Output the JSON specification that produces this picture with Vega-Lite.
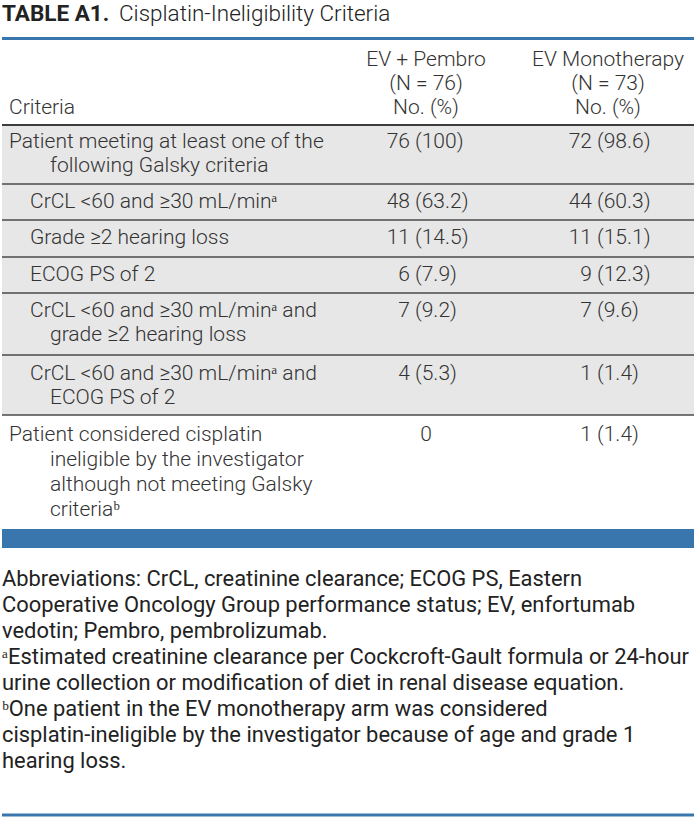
{
  "$schema": "https://vega.github.io/schema/vega-lite/v6.json",
  "width": 694,
  "height": 819,
  "padding": 0,
  "autosize": {"type": "fit", "contains": "padding"},
  "background": "white",
  "config": {"view": {"stroke": null}},
  "datasets": {
    "bands": [
      {"kind": "gray", "top": 126, "bottom": 415},
      {"kind": "blue", "top": 529, "bottom": 548}
    ],
    "rules": [
      {"kind": "blue", "pos": 38.5},
      {"kind": "head", "pos": 125},
      {"kind": "sep", "pos": 184},
      {"kind": "sep", "pos": 220},
      {"kind": "sep", "pos": 257},
      {"kind": "sep", "pos": 293},
      {"kind": "sep", "pos": 355},
      {"kind": "sep", "pos": 415},
      {"kind": "blue", "pos": 815}
    ],
    "cells": [
      {"part": "titleBold", "text": "TABLE A1.", "x": 0, "y": 21},
      {"part": "title", "text": "Cisplatin-Ineligibility Criteria", "x": 117, "y": 21},
      {"part": "headLeft", "text": "Criteria", "x": 7, "y": 114},
      {"part": "headCenter", "text": "EV + Pembro", "x": 424, "y": 66},
      {"part": "headCenter", "text": "(N = 76)", "x": 424, "y": 90},
      {"part": "headCenter", "text": "No. (%)", "x": 424, "y": 114},
      {"part": "headCenter", "text": "EV Monotherapy", "x": 606, "y": 66},
      {"part": "headCenter", "text": "(N = 73)", "x": 606, "y": 90},
      {"part": "headCenter", "text": "No. (%)", "x": 606, "y": 114},
      {"part": "label", "text": "Patient meeting at least one of the", "x": 7, "y": 148},
      {"part": "label", "text": "following Galsky criteria", "x": 48, "y": 172},
      {"part": "label", "text": "CrCL <60 and ≥30 mL/minᵃ", "x": 28, "y": 208},
      {"part": "label", "text": "Grade ≥2 hearing loss", "x": 28, "y": 244},
      {"part": "label", "text": "ECOG PS of 2", "x": 28, "y": 281},
      {"part": "label", "text": "CrCL <60 and ≥30 mL/minᵃ and", "x": 28, "y": 317},
      {"part": "label", "text": "grade ≥2 hearing loss", "x": 48, "y": 341},
      {"part": "label", "text": "CrCL <60 and ≥30 mL/minᵃ and", "x": 28, "y": 380},
      {"part": "label", "text": "ECOG PS of 2", "x": 48, "y": 404},
      {"part": "label", "text": "Patient considered cisplatin", "x": 7, "y": 441},
      {"part": "label", "text": "ineligible by the investigator", "x": 48, "y": 466},
      {"part": "label", "text": "although not meeting Galsky", "x": 48, "y": 491},
      {"part": "label", "text": "criteriaᵇ", "x": 48, "y": 516},
      {"part": "num", "text": "76", "x": 408, "y": 148},
      {"part": "pct", "text": "(100)", "x": 413, "y": 148},
      {"part": "num", "text": "72", "x": 590, "y": 148},
      {"part": "pct", "text": "(98.6)", "x": 595, "y": 148},
      {"part": "num", "text": "48", "x": 408, "y": 208},
      {"part": "pct", "text": "(63.2)", "x": 413, "y": 208},
      {"part": "num", "text": "44", "x": 590, "y": 208},
      {"part": "pct", "text": "(60.3)", "x": 595, "y": 208},
      {"part": "num", "text": "11", "x": 408, "y": 244},
      {"part": "pct", "text": "(14.5)", "x": 413, "y": 244},
      {"part": "num", "text": "11", "x": 590, "y": 244},
      {"part": "pct", "text": "(15.1)", "x": 595, "y": 244},
      {"part": "num", "text": "6", "x": 408, "y": 281},
      {"part": "pct", "text": "(7.9)", "x": 413, "y": 281},
      {"part": "num", "text": "9", "x": 590, "y": 281},
      {"part": "pct", "text": "(12.3)", "x": 595, "y": 281},
      {"part": "num", "text": "7", "x": 408, "y": 317},
      {"part": "pct", "text": "(9.2)", "x": 413, "y": 317},
      {"part": "num", "text": "7", "x": 590, "y": 317},
      {"part": "pct", "text": "(9.6)", "x": 595, "y": 317},
      {"part": "num", "text": "4", "x": 408, "y": 380},
      {"part": "pct", "text": "(5.3)", "x": 413, "y": 380},
      {"part": "num", "text": "1", "x": 590, "y": 380},
      {"part": "pct", "text": "(1.4)", "x": 595, "y": 380},
      {"part": "numCenter", "text": "0", "x": 424, "y": 441},
      {"part": "num", "text": "1", "x": 590, "y": 441},
      {"part": "pct", "text": "(1.4)", "x": 595, "y": 441},
      {"part": "foot", "text": "Abbreviations: CrCL, creatinine clearance; ECOG PS, Eastern", "x": 0, "y": 586},
      {"part": "foot", "text": "Cooperative Oncology Group performance status; EV, enfortumab", "x": 0, "y": 612},
      {"part": "foot", "text": "vedotin; Pembro, pembrolizumab.", "x": 0, "y": 638},
      {"part": "foot", "text": "ᵃEstimated creatinine clearance per Cockcroft-Gault formula or 24-hour", "x": 0, "y": 664},
      {"part": "foot", "text": "urine collection or modification of diet in renal disease equation.", "x": 0, "y": 690},
      {"part": "foot", "text": "ᵇOne patient in the EV monotherapy arm was considered", "x": 0, "y": 716},
      {"part": "foot", "text": "cisplatin-ineligible by the investigator because of age and grade 1", "x": 0, "y": 742},
      {"part": "foot", "text": "hearing loss.", "x": 0, "y": 768}
    ]
  },
  "layer": [
    {
      "data": {"name": "bands"},
      "mark": {"type": "rect"},
      "encoding": {
        "x": {"datum": 0, "type": "quantitative", "scale": {"domain": [0, 694], "range": [0, 694], "nice": false, "zero": false}, "axis": null},
        "x2": {"datum": 694},
        "y": {"field": "top", "type": "quantitative", "scale": {"domain": [0, 819], "range": [0, 819], "nice": false, "zero": false}, "axis": null},
        "y2": {"field": "bottom"},
        "color": {"field": "kind", "type": "nominal", "scale": {"domain": ["gray", "blue"], "range": ["#e7e7e7", "#3a76ae"]}, "legend": null}
      }
    },
    {
      "data": {"name": "rules"},
      "transform": [{"filter": "datum.kind === 'blue'"}],
      "mark": {"type": "rule", "color": "#3a76ae", "strokeWidth": 3},
      "encoding": {
        "x": {"datum": 0, "type": "quantitative"},
        "x2": {"datum": 694},
        "y": {"field": "pos", "type": "quantitative"}
      }
    },
    {
      "data": {"name": "rules"},
      "transform": [{"filter": "datum.kind === 'head'"}],
      "mark": {"type": "rule", "color": "#3c3c3c", "strokeWidth": 2.2},
      "encoding": {
        "x": {"datum": 0, "type": "quantitative"},
        "x2": {"datum": 694},
        "y": {"field": "pos", "type": "quantitative"}
      }
    },
    {
      "data": {"name": "rules"},
      "transform": [{"filter": "datum.kind === 'sep'"}],
      "mark": {"type": "rule", "color": "#4a4a4a", "strokeWidth": 1.6},
      "encoding": {
        "x": {"datum": 0, "type": "quantitative"},
        "x2": {"datum": 694},
        "y": {"field": "pos", "type": "quantitative"}
      }
    },
    {
      "data": {"name": "cells"},
      "transform": [{"filter": "datum.part === 'titleBold'"}],
      "mark": {"type": "text", "align": "left", "baseline": "alphabetic", "font": "Roboto", "fontSize": 22.5, "fontWeight": "bold", "color": "#222222"},
      "encoding": {"x": {"field": "x", "type": "quantitative"}, "y": {"field": "y", "type": "quantitative"}, "text": {"field": "text"}}
    },
    {
      "data": {"name": "cells"},
      "transform": [{"filter": "datum.part === 'title'"}],
      "mark": {"type": "text", "align": "left", "baseline": "alphabetic", "font": "Roboto", "fontSize": 22.5, "fontWeight": 300, "color": "#222222"},
      "encoding": {"x": {"field": "x", "type": "quantitative"}, "y": {"field": "y", "type": "quantitative"}, "text": {"field": "text"}}
    },
    {
      "data": {"name": "cells"},
      "transform": [{"filter": "datum.part === 'headLeft' || datum.part === 'label' || datum.part === 'pct'"}],
      "mark": {"type": "text", "align": "left", "baseline": "alphabetic", "font": "Roboto", "fontSize": 21, "fontWeight": 300, "color": "#333333"},
      "encoding": {"x": {"field": "x", "type": "quantitative"}, "y": {"field": "y", "type": "quantitative"}, "text": {"field": "text"}}
    },
    {
      "data": {"name": "cells"},
      "transform": [{"filter": "datum.part === 'headCenter' || datum.part === 'numCenter'"}],
      "mark": {"type": "text", "align": "center", "baseline": "alphabetic", "font": "Roboto", "fontSize": 21, "fontWeight": 300, "color": "#333333"},
      "encoding": {"x": {"field": "x", "type": "quantitative"}, "y": {"field": "y", "type": "quantitative"}, "text": {"field": "text"}}
    },
    {
      "data": {"name": "cells"},
      "transform": [{"filter": "datum.part === 'num'"}],
      "mark": {"type": "text", "align": "right", "baseline": "alphabetic", "font": "Roboto", "fontSize": 21, "fontWeight": 300, "color": "#333333"},
      "encoding": {"x": {"field": "x", "type": "quantitative"}, "y": {"field": "y", "type": "quantitative"}, "text": {"field": "text"}}
    },
    {
      "data": {"name": "cells"},
      "transform": [{"filter": "datum.part === 'foot'"}],
      "mark": {"type": "text", "align": "left", "baseline": "alphabetic", "font": "Roboto", "fontSize": 21.9, "color": "#222222"},
      "encoding": {"x": {"field": "x", "type": "quantitative"}, "y": {"field": "y", "type": "quantitative"}, "text": {"field": "text"}}
    }
  ]
}
